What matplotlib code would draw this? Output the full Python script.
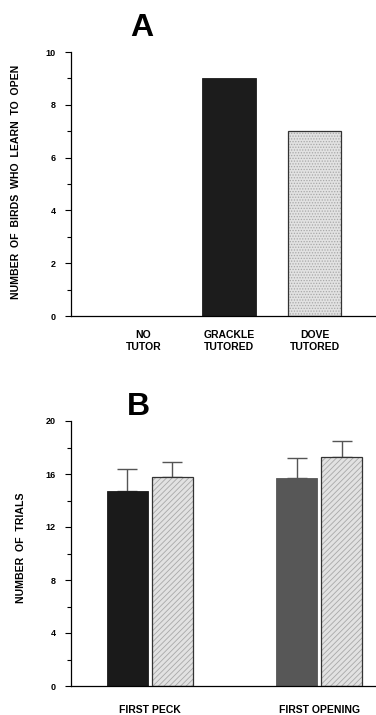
import matplotlib
matplotlib.use("Agg")
import matplotlib.pyplot as plt
import numpy as np

plt.rcParams['font.family'] = ['Liberation Sans', 'DejaVu Sans']
plt.rcParams['font.weight'] = 'bold'
plt.rcParams['hatch.linewidth'] = 0.6

# Panel A: birds that learn to open
groups_a = ["NO\nTUTOR", "GRACKLE\nTUTORED", "DOVE\nTUTORED"]
birds_open = [0, 9, 7]
colors_a = ["#1c1c1c", "#1c1c1c", "#e2e2e2"]

# Panel B: trials to first peck / first opening
groups_b = ["FIRST PECK", "FIRST OPENING"]
grackle_trials = [14.7, 15.7]
grackle_err = [1.7, 1.5]
dove_trials = [15.8, 17.3]
dove_err = [1.1, 1.2]
grackle_colors = ["#1a1a1a", "#575757"]
dove_color = "#e2e2e2"

W, H = 376, 715
fig = plt.figure(figsize=(W / 100, H / 100), dpi=100)


def px_axes(left, top, right, bottom):
    return fig.add_axes([left / W, 1 - bottom / H, (right - left) / W, (bottom - top) / H])


def style_axis(ax, ymax, major, minor):
    for s in ("top", "right"):
        ax.spines[s].set_visible(False)
    ax.spines["left"].set_linewidth(0.9)
    ax.spines["bottom"].set_linewidth(0.9)
    ax.set_ylim(0, ymax)
    ax.set_yticks(np.arange(0, ymax + 0.01, major))
    ax.set_yticks(np.arange(minor, ymax, major), minor=True)
    ax.tick_params(axis="y", which="major", length=4, width=0.8, pad=7, labelsize=6.5)
    ax.tick_params(axis="y", which="minor", length=3, width=0.8)
    ax.tick_params(axis="x", length=0, pad=10, labelsize=7.5)
    for lab in ax.get_yticklabels():
        lab.set_fontweight("bold")


def draw_bar(ax, x, h, w, face, hatch=None):
    if hatch:
        ax.bar(x, h, w, color=face, edgecolor="#a8a8a8", hatch=hatch, linewidth=0, zorder=2)
        ax.bar(x, h, w, fill=False, edgecolor="#333333", linewidth=0.9, zorder=3)
    else:
        ax.bar(x, h, w, color=face, edgecolor=face, linewidth=0.6, zorder=2)


# ---- Panel A ----
axA = px_axes(71, 52, 376, 316)
style_axis(axA, 10, 2, 1)
xa = np.arange(len(groups_a))
for i, v in enumerate(birds_open):
    if v > 0:
        draw_bar(axA, xa[i], v, 0.63, colors_a[i], hatch="......" if i == 2 else None)
axA.set_xlim(-0.848, 2.719)
axA.set_xticks(xa)
axA.set_xticklabels(groups_a, linespacing=1.3, fontweight="bold")
fig.text(16 / W, 1 - 182 / H, "NUMBER  OF  BIRDS  WHO  LEARN  TO  OPEN", fontsize=7.6,
         fontweight="bold", rotation=90, ha="center", va="center")
fig.text(142 / W, 1 - 28 / H, "A", fontsize=23, fontweight="bold", ha="center", va="center")

# ---- Panel B ----
axB = px_axes(71, 421, 376, 686)
style_axis(axB, 20, 4, 2)
xb = np.arange(len(groups_b))
bw, off = 0.243, 0.133
for i in range(len(groups_b)):
    draw_bar(axB, xb[i] - off, grackle_trials[i], bw, grackle_colors[i])
    draw_bar(axB, xb[i] + off, dove_trials[i], bw, dove_color, hatch="//////")
axB.errorbar(xb - off, grackle_trials, yerr=[np.zeros(2), grackle_err], fmt="none",
             ecolor="#555555", elinewidth=1.0, capsize=7, capthick=1.0, zorder=1)
axB.errorbar(xb + off, dove_trials, yerr=[np.zeros(2), dove_err], fmt="none",
             ecolor="#555555", elinewidth=1.0, capsize=7, capthick=1.0, zorder=1)
axB.set_xlim(-0.467, 1.337)
axB.set_xticks(xb)
axB.set_xticklabels(groups_b, fontweight="bold")
axB.tick_params(axis="x", pad=14)
fig.text(21 / W, 1 - 548 / H, "NUMBER  OF  TRIALS", fontsize=7.6,
         fontweight="bold", rotation=90, ha="center", va="center")
fig.text(138 / W, 1 - 407 / H, "B", fontsize=23, fontweight="bold", ha="center", va="center")

fig.savefig("out.png", dpi=100)
